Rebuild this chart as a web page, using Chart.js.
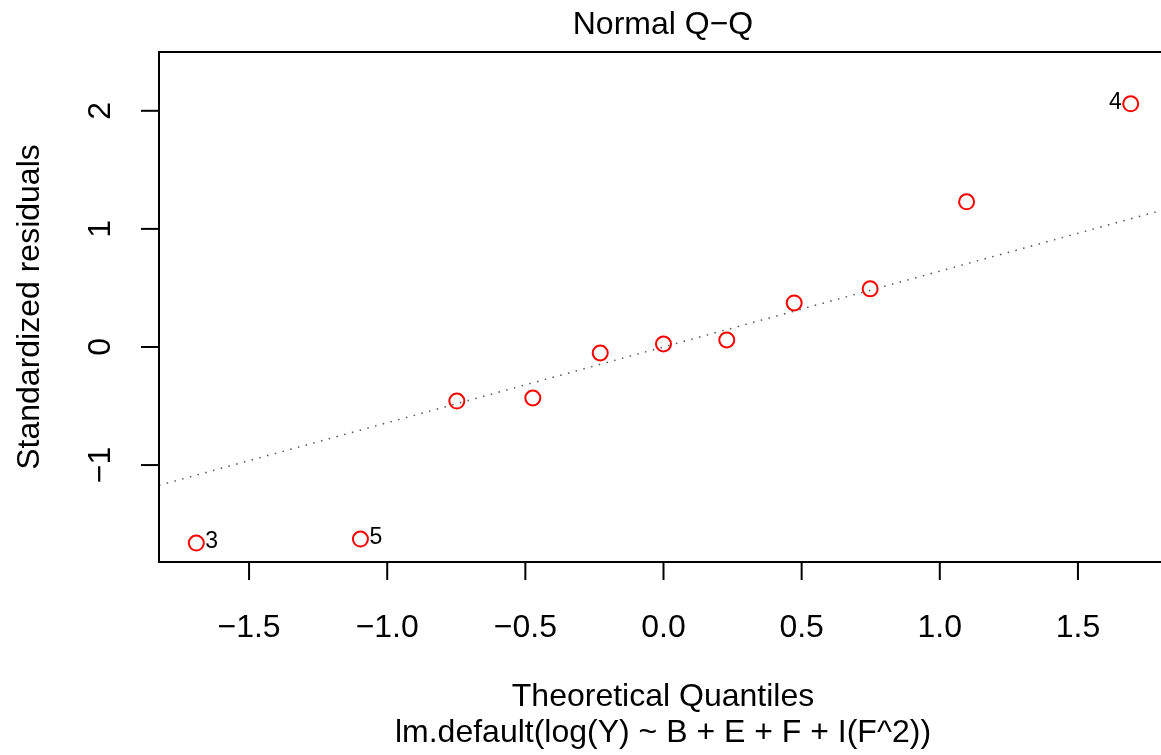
<!DOCTYPE html>
<html>
<head>
<meta charset="utf-8">
<script src="https://cdn.jsdelivr.net/npm/chart.js@4"></script>
<style>
  html, body { margin: 0; padding: 0; background: #fff; overflow: hidden; }
  #wrap { width: 1161px; height: 755px; overflow: hidden; }
</style>
</head>
<body>
<div id="wrap"><canvas id="myChart" width="1172" height="755"></canvas></div>
<script>
// datos
const cuantilesTeoricos = [-1.691, -1.097, -0.748, -0.473, -0.229, 0.0, 0.229, 0.473, 0.748, 1.097, 1.691];
const residuosEstand = [-1.661, -1.627, -0.458, -0.432, -0.051, 0.025, 0.059, 0.373, 0.492, 1.229, 2.059];
const etiquetasIdx = [0, 1, 10];
const etiquetasTxt = ['3', '5', '4'];
const lineaX = [-1.826, 1.826];
const lineaY = [-1.172, 1.172];
const ticksX = [-1.5, -1.0, -0.5, 0.0, 0.5, 1.0, 1.5];
const ticksY = [-1, 0, 1, 2];
const titulo = 'Normal Q\u2212Q';
const tituloX = 'Theoretical Quantiles';
const subtitulo = 'lm.default(log(Y) ~ B + E + F + I(F^2))';
const tituloY = 'Standardized residuals';

const FUENTE = '"Liberation Sans", Arial, sans-serif';

function formatoX(v) {
    return v.toFixed(1).replace('-', '\u2212');
}

const ejesR = {
    id: 'ejesR',
    afterDraw(chart) {
        const ctx = chart.ctx;
        const area = chart.chartArea;
        const sx = chart.scales.x;
        const sy = chart.scales.y;
        ctx.save();
        ctx.strokeStyle = '#000';
        ctx.lineWidth = 2;
        ctx.strokeRect(area.left, area.top, area.right - area.left, area.bottom - area.top);

        ctx.fillStyle = '#000';
        ctx.font = '32px ' + FUENTE;
        ctx.textAlign = 'center';
        ctx.textBaseline = 'middle';

        // eje x
        ticksX.forEach(t => {
            const px = sx.getPixelForValue(t);
            ctx.beginPath();
            ctx.moveTo(px, area.bottom);
            ctx.lineTo(px, area.bottom + 18);
            ctx.stroke();
            ctx.fillText(formatoX(t), px, area.bottom + 66);
        });

        // eje y
        ticksY.forEach(t => {
            const py = sy.getPixelForValue(t);
            ctx.beginPath();
            ctx.moveTo(area.left, py);
            ctx.lineTo(area.left - 18, py);
            ctx.stroke();
            ctx.save();
            ctx.translate(area.left - 58, py);
            ctx.rotate(-Math.PI / 2);
            ctx.fillText(String(t).replace('-', '\u2212'), 0, 0);
            ctx.restore();
        });

        // titulos
        ctx.fillText(titulo, 663, 25);
        ctx.fillText(tituloX, 663, 697);
        ctx.fillText(subtitulo, 663, 733);
        ctx.save();
        ctx.translate(30, (area.top + area.bottom) / 2);
        ctx.rotate(-Math.PI / 2);
        ctx.fillText(tituloY, 0, 0);
        ctx.restore();

        // etiquetas de puntos
        ctx.font = '23px ' + FUENTE;
        const meta = chart.getDatasetMeta(1);
        etiquetasIdx.forEach((i, k) => {
            const el = meta.data[i];
            if (cuantilesTeoricos[i] > 0) {
                ctx.textAlign = 'right';
                ctx.fillText(etiquetasTxt[k], el.x - 9, el.y - 1);
            } else {
                ctx.textAlign = 'left';
                ctx.fillText(etiquetasTxt[k], el.x + 9, el.y - 1);
            }
        });
        ctx.restore();
    }
};

function crearGrafico() {
    const ctx = document.getElementById('myChart').getContext('2d');
    new Chart(ctx, {
        type: 'scatter',
        data: {
            datasets: [{
                type: 'line',
                data: lineaX.map((x, i) => ({ x: x, y: lineaY[i] })),
                borderColor: '#555',
                borderWidth: 1.5,
                borderDash: [1.5, 6.5],
                pointRadius: 0,
                fill: false
            }, {
                data: cuantilesTeoricos.map((x, i) => ({ x: x, y: residuosEstand[i] })),
                pointStyle: 'circle',
                pointRadius: 7.5,
                pointBorderWidth: 2,
                borderColor: '#ff0000',
                backgroundColor: 'rgba(0,0,0,0)'
            }]
        },
        options: {
            responsive: false,
            animation: false,
            layout: { autoPadding: false, padding: { left: 159, top: 52, right: 4, bottom: 193 } },
            plugins: { legend: { display: false }, tooltip: { enabled: false } },
            scales: {
                x: { type: 'linear', display: false, min: -1.826, max: 1.826 },
                y: { type: 'linear', display: false, min: -1.821, max: 2.498 }
            }
        },
        plugins: [ejesR]
    });
}

document.addEventListener("DOMContentLoaded", () => {
    crearGrafico();
});
</script>
</body>
</html>
